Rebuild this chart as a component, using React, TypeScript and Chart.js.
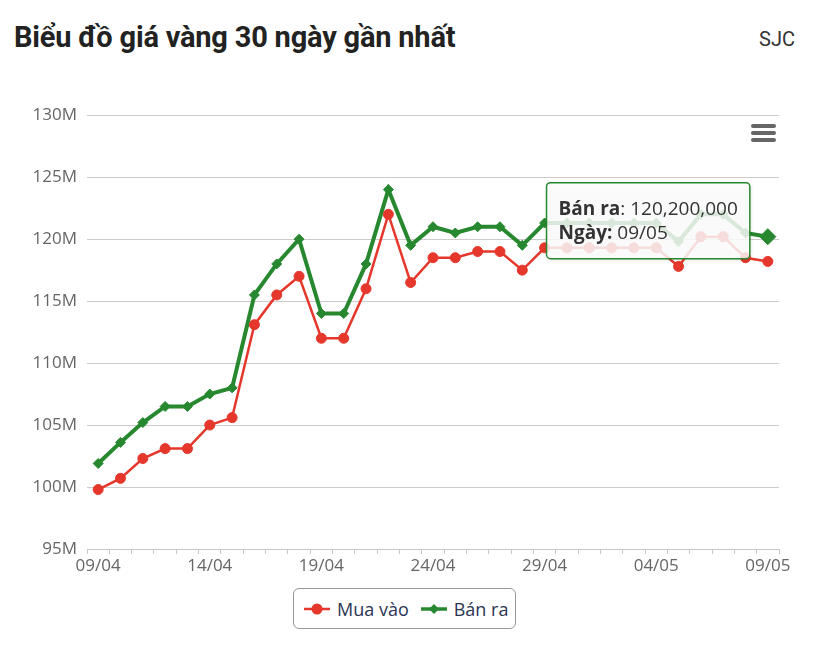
import React, { useEffect, useRef } from 'react';
import { Chart, registerables } from 'chart.js';

Chart.register(...registerables);

const dates = [
  '09/04', '10/04', '11/04', '12/04', '13/04', '14/04', '15/04', '16/04', '17/04', '18/04',
  '19/04', '20/04', '21/04', '22/04', '23/04', '24/04', '25/04', '26/04', '27/04', '28/04',
  '29/04', '30/04', '01/05', '02/05', '03/05', '04/05', '05/05', '06/05', '07/05', '08/05',
  '09/05',
];

// giá mua vào (VND)
const buyPrices = [
  99800000, 100700000, 102300000, 103100000, 103100000, 105000000, 105600000, 113100000,
  115500000, 117000000, 112000000, 112000000, 116000000, 122000000, 116500000, 118500000,
  118500000, 119000000, 119000000, 117500000, 119300000, 119300000, 119300000, 119300000,
  119300000, 119300000, 117800000, 120200000, 120200000, 118500000, 118200000,
];

// giá bán ra (VND)
const sellPrices = [
  101900000, 103600000, 105200000, 106500000, 106500000, 107500000, 108000000, 115500000,
  118000000, 120000000, 114000000, 114000000, 118000000, 124000000, 119500000, 121000000,
  120500000, 121000000, 121000000, 119500000, 121300000, 121300000, 121300000, 121300000,
  121300000, 121300000, 119800000, 122000000, 122000000, 120500000, 120200000,
];

const yMin = 95000000;
const yMax = 130000000;
const yStep = 5000000;

const RED = '#e5372c';
const GREEN = '#27882f';
const AXIS_FONT = { family: '"Open Sans", sans-serif', size: 17 };

// tooltip cố định cho điểm cuối của "Bán ra"
const tooltipPlugin = {
  id: 'fixedTooltip',
  afterDraw(chart: any) {
    const idx = dates.length - 1;
    const pt = chart.getDatasetMeta(1).data[idx];
    if (!pt) return;
    const ctx = chart.ctx;
    const bold = 'bold 19px "Open Sans", sans-serif';
    const normal = '19px "Open Sans", sans-serif';
    const l1a = 'Bán ra';
    const l1b = ': ' + sellPrices[idx].toLocaleString('en-US');
    const l2a = 'Ngày:';
    const l2b = ' ' + dates[idx];
    ctx.save();
    ctx.font = bold;
    const w1a = ctx.measureText(l1a).width;
    const w2a = ctx.measureText(l2a).width;
    ctx.font = normal;
    const w1b = ctx.measureText(l1b).width;
    const w2b = ctx.measureText(l2b).width;
    const w = Math.max(w1a + w1b, w2a + w2b) + 24;
    const h = 76;
    const bx = pt.x - 18 - w;
    const by = pt.y - 54;

    ctx.shadowColor = 'rgba(0,0,0,0.15)';
    ctx.shadowBlur = 4;
    ctx.shadowOffsetX = 1;
    ctx.shadowOffsetY = 1;
    ctx.beginPath();
    ctx.roundRect(bx, by, w, h, 4);
    ctx.fillStyle = 'rgba(255,255,255,0.83)';
    ctx.fill();
    ctx.shadowColor = 'transparent';
    ctx.lineWidth = 1.5;
    ctx.strokeStyle = GREEN;
    ctx.stroke();

    ctx.fillStyle = '#333';
    ctx.textBaseline = 'alphabetic';
    ctx.textAlign = 'left';
    const tx = bx + 12;
    ctx.font = bold;
    ctx.fillText(l1a, tx, by + 32);
    ctx.fillText(l2a, tx, by + 56);
    ctx.font = normal;
    ctx.fillText(l1b, tx + w1a, by + 32);
    ctx.fillText(l2b, tx + w2a, by + 56);
    ctx.restore();
  },
};

function LegendSymbol({ color, diamond }: { color: string; diamond?: boolean }) {
  return (
    <svg width="26" height="14" style={{ display: 'block' }}>
      <line x1="0" y1="7" x2="26" y2="7" stroke={color} strokeWidth={diamond ? 3.5 : 2.5} />
      {diamond ? (
        <polygon points="13,2 18,7 13,12 8,7" fill={color} />
      ) : (
        <circle cx="13" cy="7" r="5.5" fill={color} />
      )}
    </svg>
  );
}

export default function App() {
  const canvasRef = useRef<HTMLCanvasElement>(null);

  useEffect(() => {
    if (!canvasRef.current) return;
    const last = dates.length - 1;
    const chart = new Chart(canvasRef.current, {
      type: 'line',
      data: {
        labels: dates,
        datasets: [
          {
            label: 'Mua vào',
            data: buyPrices,
            borderColor: RED,
            backgroundColor: RED,
            borderWidth: 2.5,
            pointStyle: 'circle',
            pointRadius: 5,
            pointBorderWidth: 1,
            pointBorderColor: RED,
            pointBackgroundColor: RED,
            tension: 0,
          },
          {
            label: 'Bán ra',
            data: sellPrices,
            borderColor: GREEN,
            backgroundColor: GREEN,
            borderWidth: 4,
            pointStyle: 'rectRot',
            pointRadius: (c: any) => (c.dataIndex === last ? 8 : 5),
            pointBorderWidth: 1,
            pointBorderColor: GREEN,
            pointBackgroundColor: GREEN,
            tension: 0,
          },
        ],
      },
      options: {
        responsive: true,
        maintainAspectRatio: false,
        animation: false,
        layout: { padding: { top: 0, right: 49, left: 0, bottom: 0 } },
        plugins: {
          legend: { display: false },
          tooltip: { enabled: false },
        },
        scales: {
          x: {
            offset: true,
            grid: { offset: true, drawOnChartArea: false, tickLength: 5, color: '#c8c8c8' },
            border: { color: '#c8c8c8' },
            ticks: {
              autoSkip: false,
              maxRotation: 0,
              padding: 2,
              color: '#666',
              font: AXIS_FONT,
              callback: (_v: any, i: number) => (i % 5 === 0 ? dates[i] : ''),
            },
            afterFit: (s: any) => {
              s.height = 31;
            },
          },
          y: {
            min: yMin,
            max: yMax,
            ticks: {
              stepSize: yStep,
              padding: 10,
              color: '#666',
              font: AXIS_FONT,
              callback: (v: any) => Number(v) / 1000000 + 'M',
            },
            grid: { color: '#cccccc', drawTicks: false },
            border: { display: false },
            afterFit: (s: any) => {
              s.width = 87;
            },
          },
        },
      },
      plugins: [tooltipPlugin],
    } as any);
    return () => {
      chart.destroy();
    };
  }, []);

  const legendText: React.CSSProperties = {
    fontFamily: '"Open Sans", sans-serif',
    fontSize: 18,
    color: '#2b3553',
    lineHeight: '20px',
  };

  return (
    <div
      style={{
        position: 'fixed',
        left: 0,
        top: 0,
        width: 828,
        height: 651,
        background: '#fff',
        overflow: 'hidden',
      }}
    >
      <div
        style={{
          position: 'absolute',
          left: 14,
          top: 20,
          fontFamily: 'Roboto, sans-serif',
          fontWeight: 700,
          fontSize: 29,
          lineHeight: '34px',
          color: '#222',
          letterSpacing: -0.2,
          whiteSpace: 'nowrap',
        }}
      >
        Biểu đồ giá vàng 30 ngày gần nhất
      </div>
      <div
        style={{
          position: 'absolute',
          right: 33,
          top: 27,
          fontFamily: 'Roboto, sans-serif',
          fontSize: 20,
          lineHeight: '24px',
          color: '#333',
        }}
      >
        SJC
      </div>
      <div style={{ position: 'absolute', left: 0, top: 95, width: 828, height: 485 }}>
        <canvas ref={canvasRef} />
      </div>
      {[124, 131, 138].map((t) => (
        <div
          key={t}
          style={{
            position: 'absolute',
            left: 751,
            top: t,
            width: 25,
            height: 3.5,
            borderRadius: 2,
            background: '#666',
          }}
        />
      ))}
      <div
        style={{
          position: 'absolute',
          left: 293,
          top: 588,
          width: 223,
          height: 41,
          boxSizing: 'border-box',
          border: '1px solid #999',
          borderRadius: 6,
          display: 'flex',
          alignItems: 'center',
          paddingLeft: 10,
        }}
      >
        <LegendSymbol color={RED} />
        <span style={{ ...legendText, marginLeft: 7 }}>Mua vào</span>
        <span style={{ marginLeft: 12 }}>
          <LegendSymbol color={GREEN} diamond />
        </span>
        <span style={{ ...legendText, marginLeft: 7 }}>Bán ra</span>
      </div>
    </div>
  );
}
